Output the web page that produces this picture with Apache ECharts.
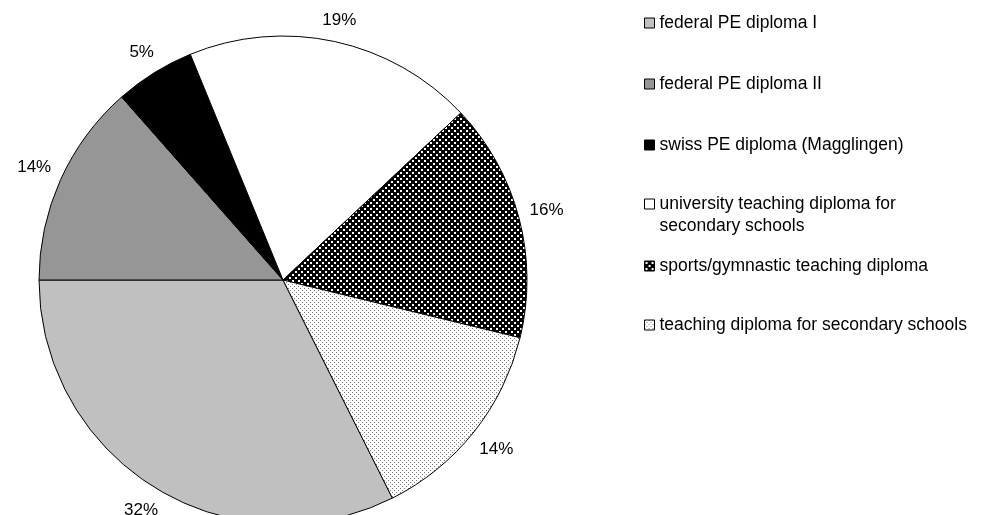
<!DOCTYPE html>
<html>
<head>
<meta charset="utf-8">
<script src="https://cdn.jsdelivr.net/npm/echarts@6/dist/echarts.min.js"></script>
<style>
  html, body { margin: 0; padding: 0; background: #fff; }
  #chart { width: 992px; height: 515px; }
</style>
</head>
<body>
<div id="chart"></div>
<script>
const categories = [
  'federal PE diploma I',
  'federal PE diploma II',
  'swiss PE diploma (Magglingen)',
  'university teaching diploma for\nsecondary schools',
  'sports/gymnastic teaching diploma',
  'teaching diploma for secondary schools'
];
const values = [32.4, 13.5, 5.3, 19.2, 15.8, 13.8];

// fill patterns
function makePattern(size, bg, fg, cells) {
  const c = document.createElement('canvas');
  c.width = size; c.height = size;
  const ctx = c.getContext('2d');
  ctx.fillStyle = bg;
  ctx.fillRect(0, 0, size, size);
  ctx.fillStyle = fg;
  cells.forEach(function (p) { ctx.fillRect(p[0], p[1], p[2], p[3]); });
  return { image: c, repeat: 'repeat' };
}
const checker = makePattern(6, '#000', '#fff', [[1, 1, 2, 2], [4, 4, 2, 2]]);
const dots = makePattern(4, '#fff', '#7a7a7a', [[0, 0, 1, 1], [2, 2, 1, 1]]);
const fills = ['#c0c0c0', '#969696', '#000000', '#ffffff', checker, dots];

const cx = 283, cy = 280, R = 244;
const total = values.reduce(function (a, b) { return a + b; }, 0);
const startAngle = -180 + values[0] / total * 360;

function midAngle(i) {
  let cum = 0;
  for (let j = 0; j < i; j++) cum += values[j];
  return (startAngle - (cum + values[i] / 2) / total * 360) * Math.PI / 180;
}

const chart = echarts.init(document.getElementById('chart'), null, { renderer: 'canvas' });

const fontFamily = 'Liberation Sans, Arial, sans-serif';

const legendBase = {
  orient: 'vertical',
  left: 644,
  padding: 0,
  itemWidth: 10,
  itemHeight: 10,
  icon: 'rect',
  selectedMode: false,
  itemStyle: { borderColor: '#000', borderWidth: 1 },
  textStyle: { fontFamily: fontFamily, fontSize: 17.5, color: '#000', lineHeight: 22 }
};

chart.setOption({
  animation: false,
  backgroundColor: '#fff',
  legend: [
    Object.assign({}, legendBase, { top: 12, itemGap: 39, data: categories.slice(0, 3) }),
    Object.assign({}, legendBase, {
      top: 171,
      data: categories.slice(3, 4),
      // empty first line so the icon sits beside the first text line
      formatter: function (name) { return '{e| }\n' + name; },
      textStyle: Object.assign({}, legendBase.textStyle, {
        rich: { e: { lineHeight: 22, fontSize: 17.5 } }
      })
    }),
    Object.assign({}, legendBase, { top: 255, itemGap: 37, data: categories.slice(4) })
  ],
  series: [{
    type: 'pie',
    center: [cx, cy],
    radius: R,
    startAngle: startAngle,
    clockwise: true,
    percentPrecision: 0,
    silent: true,
    itemStyle: { borderColor: '#000', borderWidth: 1 },
    label: { position: 'outside', formatter: '{d}%', fontFamily: fontFamily, fontSize: 17, color: '#000' },
    labelLine: { show: false, length: 4, length2: 0 },
    labelLayout: function (p) {
      const a = midAngle(p.dataIndex);
      const dx = Math.cos(a), dy = -Math.sin(a);
      const w = p.labelRect.width, h = p.labelRect.height;
      const d = 10 + Math.abs(dx) * w / 2 + Math.abs(dy) * h / 2;
      return {
        x: cx + (R + d) * dx,
        y: cy + (R + d) * dy,
        align: 'center',
        verticalAlign: 'middle'
      };
    },
    data: categories.map(function (name, i) {
      return { name: name, value: values[i], itemStyle: { color: fills[i] } };
    })
  }]
});
</script>
</body>
</html>
